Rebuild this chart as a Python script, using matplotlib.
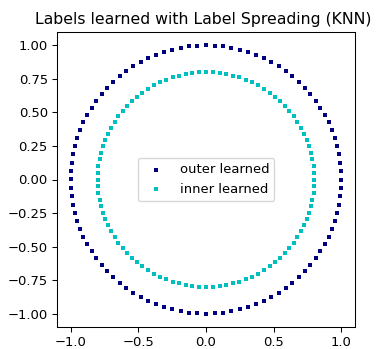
import numpy as np
import matplotlib
matplotlib.use("Agg")
import matplotlib.pyplot as plt

# angles (degrees) of the points on each circle
angles_deg = [
    0.0, 3.6, 7.2, 10.8, 14.4, 18.0, 21.6, 25.2, 28.8, 32.4,
    36.0, 39.6, 43.2, 46.8, 50.4, 54.0, 57.6, 61.2, 64.8, 68.4,
    72.0, 75.6, 79.2, 82.8, 86.4, 90.0, 93.6, 97.2, 100.8, 104.4,
    108.0, 111.6, 115.2, 118.8, 122.4, 126.0, 129.6, 133.2, 136.8, 140.4,
    144.0, 147.6, 151.2, 154.8, 158.4, 162.0, 165.6, 169.2, 172.8, 176.4,
    180.0, 183.6, 187.2, 190.8, 194.4, 198.0, 201.6, 205.2, 208.8, 212.4,
    216.0, 219.6, 223.2, 226.8, 230.4, 234.0, 237.6, 241.2, 244.8, 248.4,
    252.0, 255.6, 259.2, 262.8, 266.4, 270.0, 273.6, 277.2, 280.8, 284.4,
    288.0, 291.6, 295.2, 298.8, 302.4, 306.0, 309.6, 313.2, 316.8, 320.4,
    324.0, 327.6, 331.2, 334.8, 338.4, 342.0, 345.6, 349.2, 352.8, 356.4,
]
outer_radius = 1.0
inner_radius = 0.8
labels = ["outer learned", "inner learned"]
colors = ["navy", "c"]

theta = np.deg2rad(angles_deg)

DPI = 94.5
fig = plt.figure(figsize=(378 / DPI, 349 / DPI), dpi=DPI)
ax = fig.add_axes([57 / 378, 22 / 349, 298 / 378, 295 / 349])

for r, lab, col in zip([outer_radius, inner_radius], labels, colors):
    ax.scatter(r * np.cos(theta), r * np.sin(theta),
               color=col, marker="s", lw=0, s=10, label=lab)

ax.legend(scatterpoints=1, shadow=False, loc="center")
ax.set_title("Labels learned with Label Spreading (KNN)", x=0.492)

fig.savefig("out.png", dpi=DPI)
